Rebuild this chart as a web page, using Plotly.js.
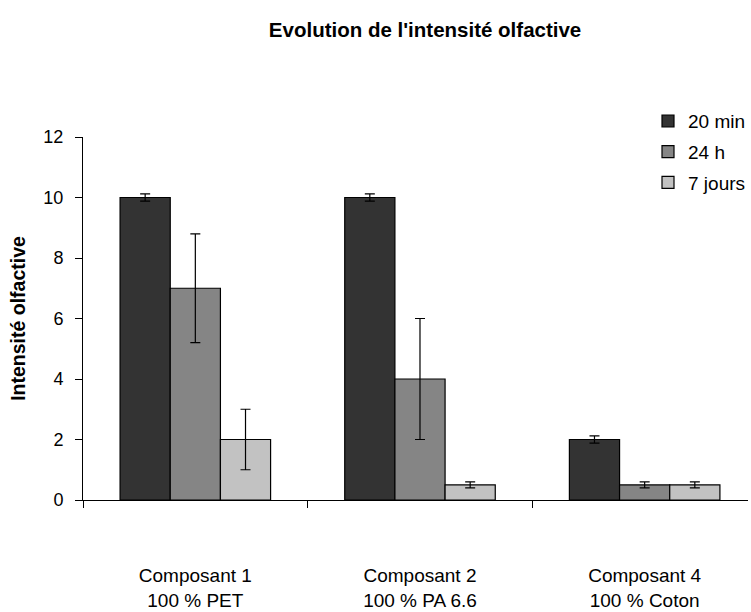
<!DOCTYPE html>
<html>
<head>
<meta charset="utf-8">
<script src="https://cdn.plot.ly/plotly-3.0.1.min.js"></script>
<style>html,body{margin:0;padding:0;background:#fff;}#chart{width:751px;height:612px;}</style>
</head>
<body>
<div id="chart"></div>
<script>
const categories = ["Composant 1<br>100 % PET", "Composant 2<br>100 % PA 6.6", "Composant 4<br>100 % Coton"];
const seriesNames = ["20 min", "24 h", "7 jours"];
const values20min = [10, 10, 2];
const values24h = [7, 4, 0.5];
const values7jours = [2, 0.5, 0.5];
const err20min = [0.12, 0.12, 0.12];
const err24h = [1.8, 2, 0.1];
const err7jours = [1, 0.1, 0.1];
const colors = ["#333333", "#858585", "#c2c2c2"];

const allValues = [values20min, values24h, values7jours];
const allErrors = [err20min, err24h, err7jours];

const font = "Liberation Sans, Arial, sans-serif";

const traces = seriesNames.map((name, i) => ({
  type: "bar",
  name: name,
  x: categories,
  y: allValues[i],
  legendgroup: "g" + i,
  marker: {color: colors[i], line: {color: "#000", width: 1.2}},
  error_y: {type: "data", array: allErrors[i], visible: true, color: "#000", thickness: 1.2, width: 5},
  hoverinfo: "none"
}));

const layout = {
  width: 751, height: 612,
  margin: {l: 83, r: 0, t: 137, b: 112},
  paper_bgcolor: "#fff", plot_bgcolor: "#fff",
  font: {family: font, color: "#000", size: 19},
  title: {text: "<b>Evolution de l'intensité olfactive</b>", x: 0.566, xref: "container", xanchor: "center", y: 1 - 30/612, yref: "container", yanchor: "middle", font: {family: font, size: 20.5, color: "#000"}},
  barmode: "group", bargap: 0.33, bargroupgap: 0,
  showlegend: true,
  legend: {x: 0.85, xanchor: "left", y: 1.096, yanchor: "top", bgcolor: "rgba(0,0,0,0)", font: {family: font, size: 19}, tracegroupgap: 3, traceorder: "grouped"},
  xaxis: {
    type: "category", range: [-0.5, 2.46], showline: true, linecolor: "#000", linewidth: 1,
    ticks: "outside", tickson: "boundaries", ticklen: 7, tickcolor: "#000", tickwidth: 1,
    ticklabelstandoff: 58, showgrid: false, zeroline: false, tickfont: {family: font, size: 19}
  },
  yaxis: {
    range: [0, 12], tickvals: [0, 2, 4, 6, 8, 10, 12], showline: true, linecolor: "#000", linewidth: 1,
    ticks: "outside", ticklen: 7, tickcolor: "#000", tickwidth: 1, showgrid: false, zeroline: false,
    ticklabelstandoff: 8, tickfont: {family: font, size: 18},
    title: {text: "<b>Intensité olfactive</b>", font: {family: font, size: 19.5}, standoff: 12}
  }
};

Plotly.newPlot("chart", traces, layout, {displayModeBar: false, staticPlot: true});
</script>
</body>
</html>
